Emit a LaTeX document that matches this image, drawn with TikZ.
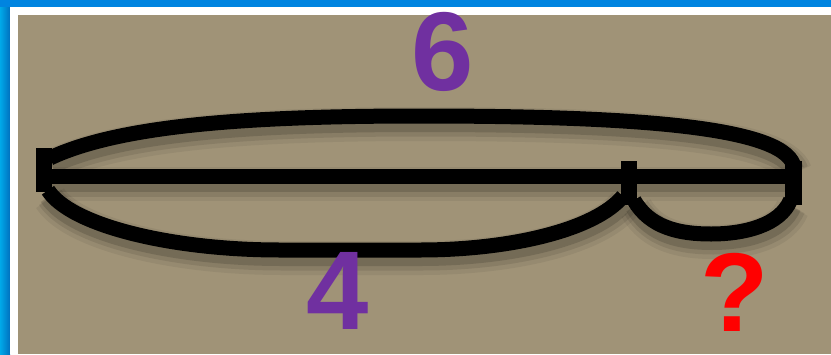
\documentclass[tikz,border=0pt]{standalone}
\usepackage{fontspec}
\setmainfont{Liberation Sans}
\usetikzlibrary{positioning, calc}
\definecolor{paper}{RGB}{160,147,119}
\definecolor{frameblue}{RGB}{0,132,224}
\definecolor{numpurple}{RGB}{112,48,160}

\begin{document}
\begin{tikzpicture}[x=1pt, y=-1pt,
		tick/.style={draw=none, rectangle, minimum width=16pt, minimum height=44pt, inner sep=0pt},
		brace/.style={line width=15pt, line cap=butt,
			preaction={draw, line width=34pt, black, opacity=0.06, transform canvas={shift={(2pt,-8pt)}}},
			preaction={draw, line width=27pt, black, opacity=0.09, transform canvas={shift={(2pt,-7pt)}}},
			preaction={draw, line width=20pt, black, opacity=0.14, transform canvas={shift={(1pt,-6pt)}}}},
		num/.style={inner sep=0pt, font=\fontsize{112}{112}\selectfont\bfseries}]
		\useasboundingbox (0, 0) rectangle (831, 354);
		\fill[frameblue] (0, 0) rectangle (831, 354);
		\shade[left color=frameblue!70!cyan, right color=frameblue!85!black] (0, 7) rectangle (10, 354);
		\fill[white] (10, 7) rectangle (831, 354);
		\fill[paper] (18, 15) rectangle (831, 354);
		\node[tick] (tickL) at (44, 170) {};
		\node[tick] (tickM) at (629, 183) {};
		\node[tick, minimum width=17pt] (tickR) at (793.5, 183) {};
		\draw[brace] ($(tickL.center) + (0, 6)$) -- ($(tickR.center) + (0, -7)$);
		\draw[brace] ($(tickL.center) + (6, -12)$) .. controls (120, 125) and (250, 116) .. (420, 116) .. controls (620, 116) and (780, 125) .. ($(tickR.north) + (0, 4)$);
		\draw[brace] ($(tickL.south) + (4, -2)$) .. controls (70, 225) and (170, 250) .. (280, 250) -- (420, 250) .. controls (510, 250) and (595, 230) .. ($(tickM.south) + (-6, -9)$);
		\draw[brace] ($(tickM.south) + (5, -5)$) .. controls (650, 228) and (680, 234) .. (711, 234) .. controls (745, 234) and (780, 225) .. ($(tickR.south) + (-3, -5)$);
		\foreach \t in {tickL, tickM, tickR}
			\fill[black] (\t.south west) rectangle (\t.north east);
		\node[num, text=numpurple] (six) at (443, 52) {6};
		\node[num, text=numpurple] (four) at (338, 291) {4};
		\node[num, text=red] (what) at (735, 292) {?};
	\end{tikzpicture}
\end{document}
